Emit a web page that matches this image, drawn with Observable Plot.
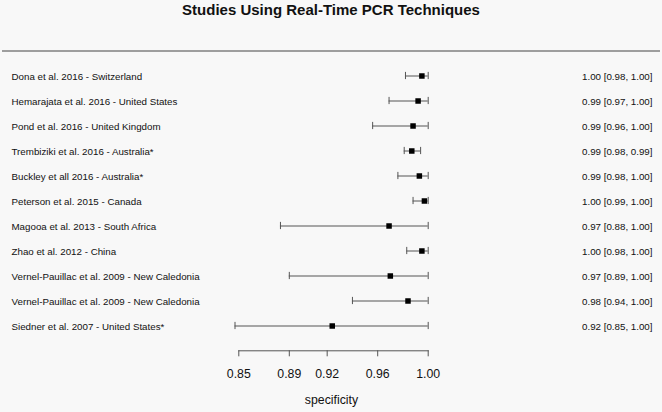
<!DOCTYPE html>
<html>
<head>
<meta charset="utf-8">
<script src="https://cdn.jsdelivr.net/npm/d3@7"></script>
<script src="https://cdn.jsdelivr.net/npm/@observablehq/plot@0.6"></script>
<style>
  html, body { margin: 0; padding: 0; background: #f8f8f8; }
  #title { height: 30px; box-sizing: border-box; padding-top: 1px; line-height: 17px; text-align: center;
           font: bold 15px "Liberation Sans", Arial, sans-serif; color: #111; }
  #chart svg { display: block; }
</style>
</head>
<body>
<div id="title">Studies Using Real-Time PCR Techniques</div>
<div id="chart"></div>
<script>
const studies = [
  "Dona et al. 2016 - Switzerland",
  "Hemarajata et al. 2016 - United States",
  "Pond et al. 2016 - United Kingdom",
  "Trembiziki et al. 2016 - Australia*",
  "Buckley et all 2016 - Australia*",
  "Peterson et al. 2015 - Canada",
  "Magooa et al. 2013 - South Africa",
  "Zhao et al. 2012 - China",
  "Vernel-Pauillac et al. 2009 - New Caledonia",
  "Vernel-Pauillac et al. 2009 - New Caledonia",
  "Siedner et al. 2007 - United States*"
];
const estimate = [0.995, 0.992, 0.988, 0.987, 0.993, 0.997, 0.969, 0.995, 0.970, 0.984, 0.924];
const lower    = [0.982, 0.969, 0.956, 0.981, 0.976, 0.988, 0.883, 0.983, 0.890, 0.940, 0.847];
const upper    = [1.000, 1.000, 1.000, 0.994, 1.000, 1.000, 1.000, 1.000, 1.000, 1.000, 1.000];
const annotations = [
  "1.00 [0.98, 1.00]", "0.99 [0.97, 1.00]", "0.99 [0.96, 1.00]", "0.99 [0.98, 0.99]",
  "0.99 [0.98, 1.00]", "1.00 [0.99, 1.00]", "0.97 [0.88, 1.00]", "1.00 [0.98, 1.00]",
  "0.97 [0.89, 1.00]", "0.98 [0.94, 1.00]", "0.92 [0.85, 1.00]"
];
const xTicks = [0.85, 0.89, 0.92, 0.96, 1.00];
const xLabel = "specificity";

const rows = studies.map((s, i) => ({
  id: "r" + i, study: s, est: estimate[i], lo: lower[i], hi: upper[i], ann: annotations[i]
}));
const yDomain = ["top", ...rows.map(d => d.id)];

const W = 662, H = 382;
const mLeft = 238.3, mRight = 234.3, mTop = 7.15, mBottom = 61.7;
const lineCol = "#555";
const capInset = 8.9;
const labelSize = 9.75;

const plot = Plot.plot({
  width: W, height: H,
  marginLeft: mLeft, marginRight: mRight, marginTop: mTop, marginBottom: mBottom,
  style: { background: "#f8f8f8", fontFamily: "'Liberation Sans', Arial, sans-serif", color: "#111", overflow: "visible" },
  x: { domain: [0.85, 1.00] },
  y: { type: "band", domain: yDomain, padding: 0, insetBottom: 12.05, axis: null },
  marks: [
    Plot.ruleY(["top"], { stroke: "#808080", strokeWidth: 1.5, insetLeft: -236.3, insetRight: -232.3 }),
    Plot.frame({ anchor: "bottom", stroke: lineCol }),
    Plot.axisX({ ticks: xTicks, tickFormat: d3.format(".2f"), tickSize: 6, tickPadding: 12,
                 fontSize: 12.3, stroke: lineCol, label: null }),
    Plot.text([xLabel], { frameAnchor: "bottom", text: d => d, dy: 53.1, dx: -2, fontSize: 12.3, fill: "#111" }),
    Plot.ruleY(rows, { y: "id", x1: "lo", x2: "hi", stroke: lineCol, strokeWidth: 1 }),
    Plot.tickX(rows, { x: "lo", y: "id", stroke: lineCol, strokeWidth: 1, insetTop: capInset, insetBottom: capInset }),
    Plot.tickX(rows, { x: "hi", y: "id", stroke: lineCol, strokeWidth: 1, insetTop: capInset, insetBottom: capInset }),
    Plot.dot(rows, { x: "est", y: "id", symbol: "square", r: 3.1, fill: "#000", stroke: "none" }),
    Plot.text(rows, { y: "id", text: "study", frameAnchor: "left", dx: -227.3, dy: 0.8, textAnchor: "start", fontSize: labelSize, fill: "#111" }),
    Plot.text(rows, { y: "id", text: "ann", frameAnchor: "right", dx: 224.3, dy: 0.8, textAnchor: "end", fontSize: labelSize, fill: "#111" })
  ]
});
document.getElementById("chart").appendChild(plot);
</script>
</body>
</html>
